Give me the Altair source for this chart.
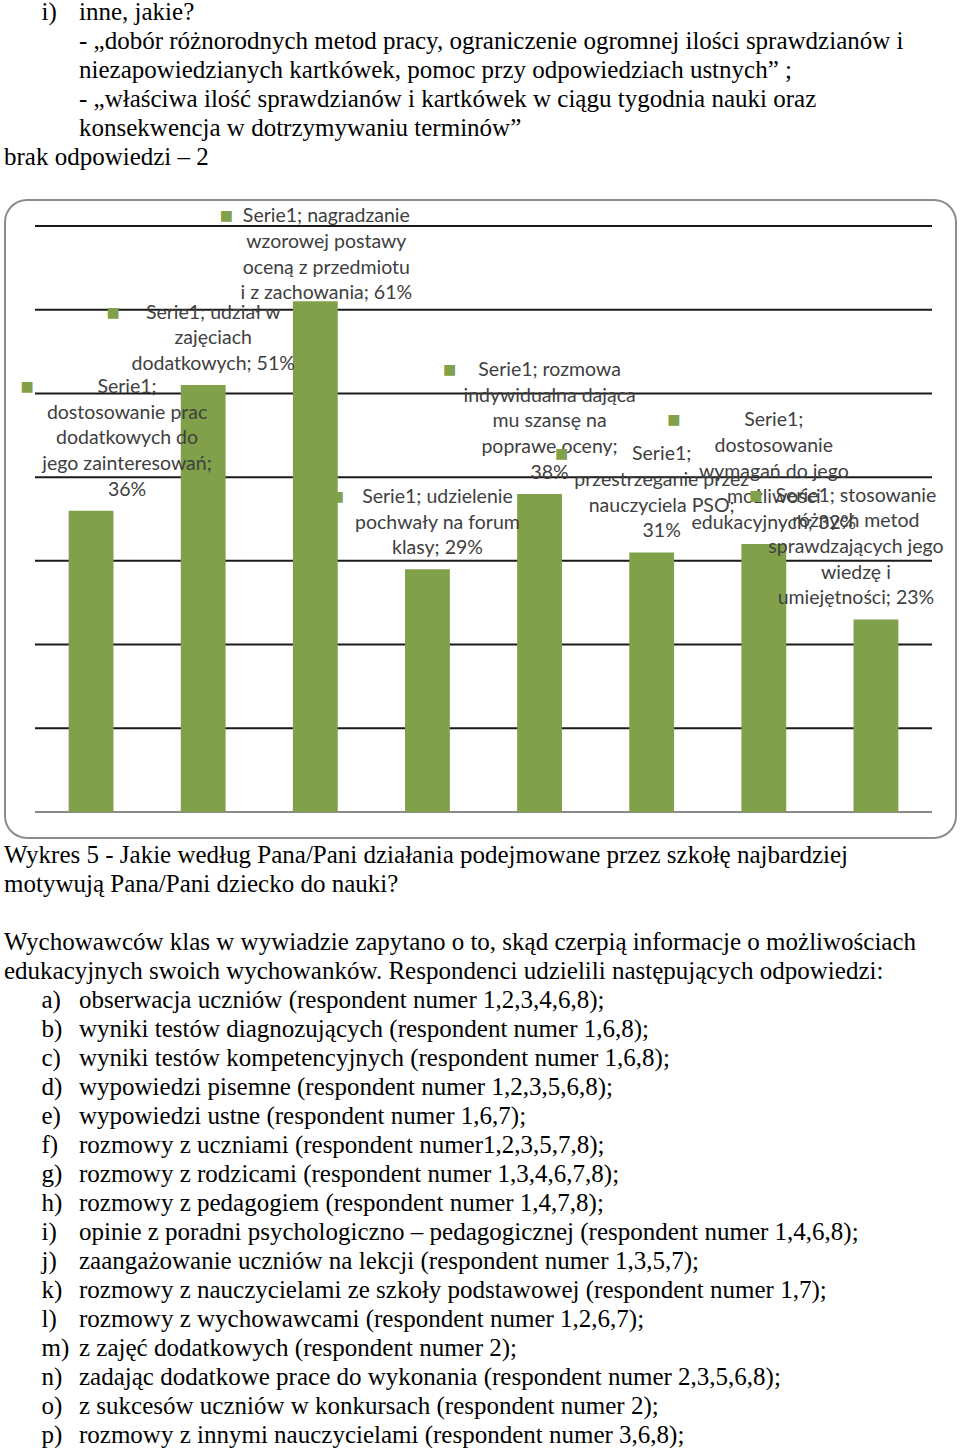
import altair as alt
import pandas as pd

# ---------------- data ----------------
categories = [
    "dostosowanie prac dodatkowych do jego zainteresowań",
    "udział w zajęciach dodatkowych",
    "nagradzanie wzorowej postawy oceną z przedmiotu i z zachowania",
    "udzielenie pochwały na forum klasy",
    "rozmowa indywidualna dająca mu szansę na poprawe oceny",
    "przestrzeganie przez nauczyciela PSO",
    "dostosowanie wymagań do jego możliwości edukacyjnych",
    "stosowanie różnych metod sprawdzających jego wiedzę i umiejętności",
]
values = [36, 51, 61, 29, 38, 31, 32, 23]
label_lines = [
    ["Serie1;", "dostosowanie prac", "dodatkowych do", "jego zainteresowań;", "36%"],
    ["Serie1; udział w", "zajęciach", "dodatkowych; 51%"],
    ["Serie1; nagradzanie", "wzorowej postawy", "oceną z przedmiotu", "i z zachowania; 61%"],
    ["Serie1; udzielenie", "pochwały na forum", "klasy; 29%"],
    ["Serie1; rozmowa", "indywidualna dająca", "mu szansę na", "poprawe oceny;", "38%"],
    ["Serie1;", "przestrzeganie przez", "nauczyciela PSO;", "31%"],
    ["Serie1;", "dostosowanie", "wymagań do jego", "możliwości", "edukacyjnych; 32%"],
    ["Serie1; stosowanie", "różnych metod", "sprawdzających jego", "wiedzę i", "umiejętności; 23%"],
]
gridline_values = [10, 20, 30, 40, 50, 60, 70]

top_markers = ["i)", "", "", "", "", ""]
top_texts = [
    "inne, jakie?",
    "- „dobór różnorodnych metod pracy, ograniczenie ogromnej ilości sprawdzianów i",
    "niezapowiedzianych kartkówek, pomoc przy odpowiedziach ustnych” ;",
    "- „właściwa ilość sprawdzianów i kartkówek w ciągu tygodnia nauki oraz",
    "konsekwencja w dotrzymywaniu terminów”",
    "brak odpowiedzi – 2",
]
top_levels = [2, 2, 2, 2, 2, 0]

bottom_markers = ["", "", "", "", "",
                  "a)", "b)", "c)", "d)", "e)", "f)", "g)", "h)",
                  "i)", "j)", "k)", "l)", "m)", "n)", "o)", "p)"]
bottom_texts = [
    "Wykres 5 - Jakie według Pana/Pani działania podejmowane przez szkołę najbardziej",
    "motywują Pana/Pani dziecko do nauki?",
    "",
    "Wychowawców klas w wywiadzie zapytano o to, skąd czerpią informacje o możliwościach",
    "edukacyjnych swoich wychowanków. Respondenci udzielili następujących odpowiedzi:",
    "obserwacja uczniów (respondent numer 1,2,3,4,6,8);",
    "wyniki testów diagnozujących (respondent numer 1,6,8);",
    "wyniki testów kompetencyjnych (respondent numer 1,6,8);",
    "wypowiedzi pisemne (respondent numer 1,2,3,5,6,8);",
    "wypowiedzi ustne (respondent numer 1,6,7);",
    "rozmowy z uczniami (respondent numer1,2,3,5,7,8);",
    "rozmowy z rodzicami (respondent numer 1,3,4,6,7,8);",
    "rozmowy z pedagogiem (respondent numer 1,4,7,8);",
    "opinie z poradni psychologiczno – pedagogicznej (respondent numer 1,4,6,8);",
    "zaangażowanie uczniów na lekcji (respondent numer 1,3,5,7);",
    "rozmowy z nauczycielami ze szkoły podstawowej (respondent numer 1,7);",
    "rozmowy z wychowawcami (respondent numer 1,2,6,7);",
    "z zajęć dodatkowych (respondent numer 2);",
    "zadając dodatkowe prace do wykonania (respondent numer 2,3,5,6,8);",
    "z sukcesów uczniów w konkursach (respondent numer 2);",
    "rozmowy z innymi nauczycielami (respondent numer 3,6,8);",
]
bottom_levels = [0] * 5 + [2] * 16

# ---------------- helpers ----------------
SERIF = "Liberation Serif"
BODY_SIZE = 25
LINE_STEP = 29


def text_block(markers, texts, levels, height, first_y):
    rows = []
    for i, (m, t, lv) in enumerate(zip(markers, texts, levels)):
        if m:
            rows.append({"row": i, "level": 1, "text": m})
        if t:
            rows.append({"row": i, "level": lv, "text": t})
    df = pd.DataFrame(rows)
    n = len(texts)
    return (
        alt.Chart(df)
        .mark_text(font=SERIF, fontSize=BODY_SIZE, align="left", baseline="middle", color="#000000")
        .encode(
            x=alt.X("level:Q", scale=alt.Scale(domain=[0, 2], range=[4, 79]), axis=None),
            y=alt.Y("row:Q", scale=alt.Scale(domain=[0, n], range=[first_y, first_y + LINE_STEP * n]), axis=None),
            text="text:N",
        )
        .properties(width=960, height=height)
    )


# ---------------- chart block ----------------
bars_df = pd.DataFrame({
    "idx": list(range(len(categories))),
    "category": categories,
    "value": values,
    "label": ["\n".join(l) for l in label_lines],
    "marker": ["■" + "\n" * (len(l) - 1) for l in label_lines],
})
grid_df = pd.DataFrame({"v": gridline_values})
base_df = pd.DataFrame({"v": [0]})

CH = 655
xs = alt.X("category:N", sort=categories,
           scale=alt.Scale(range=[35, 932], paddingInner=0.6, paddingOuter=0.3), axis=None)
yscale = alt.Scale(domain=[0, 70], range=[622, 36])
ys = alt.Y("value:Q", scale=yscale, axis=None)

grid = alt.Chart(grid_df).mark_rule(color="#1a1a1a", strokeWidth=2).encode(
    y=alt.Y("v:Q", scale=yscale, axis=None), x=alt.value(35), x2=alt.value(932))
baseline = alt.Chart(base_df).mark_rule(color="#8a8a8a", strokeWidth=2).encode(
    y=alt.Y("v:Q", scale=yscale, axis=None), x=alt.value(35), x2=alt.value(932))
bars = alt.Chart(bars_df).mark_bar(color="#80A04A").encode(x=xs, y=ys)

LABEL_FONT = "Lato"
LABEL_SIZE = 19.5
LH = 25.7
# label placement tweaks (Excel nudges edge labels to stay inside the frame)
label_dx = {0: 36, 2: 11, 7: -20}
label_extra_dy = {2: 13}

labels = []
for i, lines in enumerate(label_lines):
    dx = label_dx.get(i, 10)
    dy = -11 + label_extra_dy.get(i, 0) - (len(lines) - 1) * LH
    sub = alt.Chart(bars_df).transform_filter(alt.datum.idx == i)
    labels.append(sub.mark_text(font=LABEL_FONT, fontSize=LABEL_SIZE, color="#404040", align="center",
                                baseline="bottom", lineHeight=LH, lineBreak="\n", dx=dx, dy=dy).encode(
        x=xs, y=ys, text="label:N"))
    labels.append(sub.mark_text(font="DejaVu Sans", fontSize=14, color="#80A04A", align="center",
                                baseline="bottom", lineHeight=LH, lineBreak="\n", dx=dx - 100, dy=dy - 3).encode(
        x=xs, y=ys, text="marker:N"))

frame = alt.Chart(base_df).mark_rect(fillOpacity=0, stroke="#8c8c8c", strokeWidth=2, cornerRadius=22).encode(
    x=alt.value(5), x2=alt.value(956), y=alt.value(10), y2=alt.value(648))

chart_block = alt.layer(grid, baseline, bars, *labels, frame).properties(width=960, height=CH)

top_block = text_block(top_markers, top_texts, top_levels, 190, 12)
bottom_block = text_block(bottom_markers, bottom_texts, bottom_levels, 603, 10)

chart = (
    alt.vconcat(top_block, chart_block, bottom_block, spacing=0, bounds="flush")
    .properties(padding=0)
    .configure_view(stroke=None)
)

chart.save("out.html", embed_options={"renderer": "svg", "actions": False})
